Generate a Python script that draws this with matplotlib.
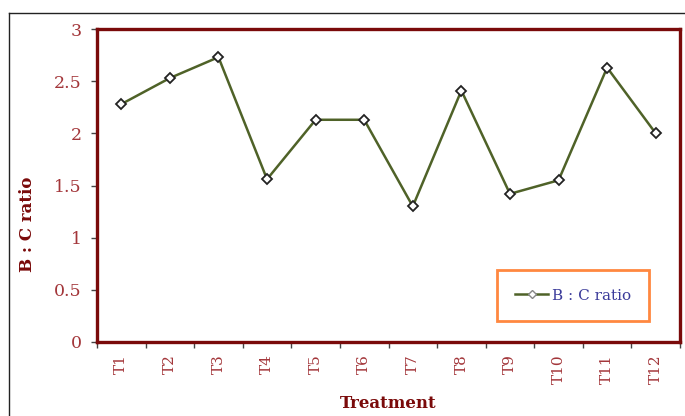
import numpy as np
import matplotlib.pyplot as plt
from matplotlib.lines import Line2D

treatments = ['T1', 'T2', 'T3', 'T4', 'T5', 'T6', 'T7', 'T8', 'T9', 'T10', 'T11', 'T12']
bc_ratio = [2.28, 2.53, 2.73, 1.56, 2.13, 2.13, 1.30, 2.41, 1.42, 1.55, 2.63, 2.00]
yticks = [0, 0.5, 1, 1.5, 2, 2.5, 3]
ytick_labels = ['0', '0.5', '1', '1.5', '2', '2.5', '3']

red = '#a3363a'
spine_red = '#7a0a0a'

plt.rcParams['font.family'] = ['DejaVu Serif']

fig = plt.figure(figsize=(6.85, 4.16), dpi=100)
ax = fig.add_axes([97/685, 74/416, 583/685, 313/416])

x = np.arange(len(treatments))
ax.plot(x, bc_ratio, '-', color='#4f6228', lw=1.8, marker='D', ms=5,
        mfc='white', mec='#222222', mew=1.3, label='B : C ratio')

ax.set_xlim(-0.5, len(treatments) - 0.5)
ax.set_ylim(0, 3)
ax.set_yticks(yticks)
ax.set_yticklabels(ytick_labels)
ax.set_xticks(x)
ax.set_xticklabels(treatments, rotation=90)
ax.set_xticks(np.arange(len(treatments) + 1) - 0.5, minor=True)

ax.tick_params(axis='x', which='major', length=0, pad=9, labelsize=11, labelcolor=red)
ax.tick_params(axis='x', which='minor', length=4, width=1, color='#444444', direction='out')
ax.tick_params(axis='y', length=4, width=1, color='#444444', pad=7, labelsize=12.5,
               labelcolor=red)

for s in ax.spines.values():
    s.set_color(spine_red)
    s.set_linewidth(2.4)

ax.set_ylabel('B : C ratio', fontsize=12, fontweight='bold', color=spine_red)
ax.yaxis.set_label_coords(-0.105, 0.377)
ax.set_xlabel('Treatment', fontsize=12, fontweight='bold', color=spine_red, labelpad=8)

leg = ax.legend(loc='lower right', bbox_to_anchor=(649/685, 95/416), bbox_transform=fig.transFigure,
                frameon=True, fancybox=False, borderpad=1.2, handlelength=2.2,
                handletextpad=0.2, borderaxespad=0, prop={'size': 11})
leg.get_frame().set_edgecolor('#ff6a10')
leg.get_frame().set_linewidth(2)
for h in leg.legend_handles:
    h.set_markersize(4)
    h.set_markeredgecolor('#888888')
    h.set_markeredgewidth(1)
for t in leg.get_texts():
    t.set_color('#3b3b9a')

# outer frame lines
fig.add_artist(Line2D([9/685, 1], [1 - 13/416, 1 - 13/416], transform=fig.transFigure,
                      color='#222222', lw=1))
fig.add_artist(Line2D([9/685, 9/685], [0, 1 - 13/416], transform=fig.transFigure,
                      color='#222222', lw=1))

fig.savefig('out.png', dpi=100)
